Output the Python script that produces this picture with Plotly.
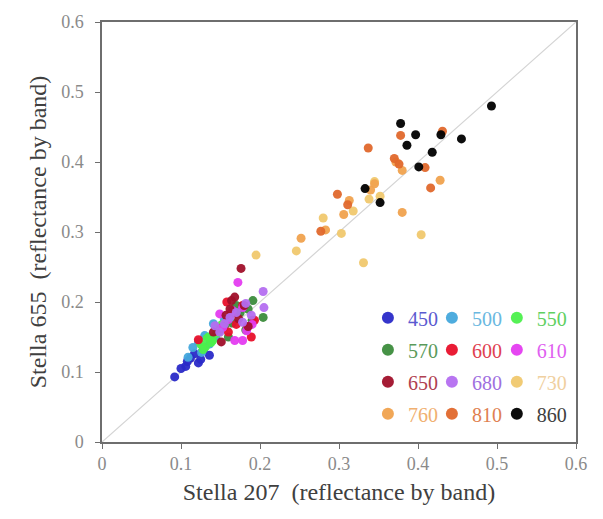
import plotly.graph_objects as go

bands = ["450", "500", "550", "570", "600", "610", "650", "680", "730", "760", "810", "860"]
colors = ["#2a2ac8", "#45a8dc", "#4cf04c", "#3c8c3c", "#e8102a", "#e43cf0",
          "#a0102a", "#b46ef0", "#f0c86e", "#f0a24e", "#e0682c", "#000000"]
text_colors = ["#5a5ad0", "#6ab8e0", "#60d060", "#5a9a5a", "#e04050", "#e060f0",
               "#b04050", "#a070e0", "#f0d0a0", "#f0b070", "#e08050", "#404040"]

x450 = [0.092, 0.106, 0.122, 0.117, 0.136, 0.112, 0.128, 0.108, 0.125, 0.100]
y450 = [0.093, 0.108, 0.113, 0.126, 0.124, 0.120, 0.131, 0.115, 0.118, 0.105]
x500 = [0.141, 0.130, 0.115, 0.136, 0.109, 0.148, 0.122, 0.155, 0.126, 0.144]
y500 = [0.169, 0.152, 0.135, 0.140, 0.121, 0.158, 0.143, 0.175, 0.128, 0.150]
x550 = [0.131, 0.140, 0.125, 0.148, 0.135, 0.152, 0.138, 0.128, 0.145, 0.133]
y550 = [0.136, 0.145, 0.140, 0.160, 0.150, 0.168, 0.142, 0.132, 0.155, 0.148]
x570 = [0.191, 0.204, 0.190, 0.175, 0.165, 0.182, 0.170, 0.155, 0.185, 0.160]
y570 = [0.202, 0.178, 0.174, 0.185, 0.170, 0.160, 0.195, 0.165, 0.190, 0.150]
x600 = [0.122, 0.164, 0.189, 0.160, 0.193, 0.170, 0.150, 0.178, 0.158, 0.184]
y600 = [0.146, 0.183, 0.150, 0.157, 0.174, 0.168, 0.162, 0.195, 0.200, 0.165]
x610 = [0.172, 0.149, 0.168, 0.178, 0.183, 0.153, 0.178, 0.160, 0.165, 0.190]
y610 = [0.228, 0.183, 0.145, 0.145, 0.159, 0.164, 0.192, 0.175, 0.188, 0.168]
x650 = [0.176, 0.164, 0.168, 0.151, 0.141, 0.157, 0.173, 0.185, 0.162, 0.180]
y650 = [0.248, 0.202, 0.207, 0.143, 0.157, 0.181, 0.176, 0.165, 0.190, 0.195]
x680 = [0.204, 0.205, 0.178, 0.155, 0.189, 0.149, 0.143, 0.170, 0.182, 0.162]
y680 = [0.215, 0.192, 0.171, 0.169, 0.181, 0.157, 0.166, 0.185, 0.198, 0.178]
x730 = [0.195, 0.246, 0.280, 0.303, 0.331, 0.404, 0.338, 0.345, 0.318, 0.352]
y730 = [0.267, 0.273, 0.320, 0.298, 0.256, 0.296, 0.347, 0.372, 0.330, 0.351]
x760 = [0.380, 0.428, 0.380, 0.252, 0.345, 0.306, 0.372, 0.313, 0.283, 0.340]
y760 = [0.388, 0.374, 0.328, 0.291, 0.369, 0.325, 0.400, 0.345, 0.303, 0.360]
x810 = [0.378, 0.337, 0.431, 0.370, 0.409, 0.416, 0.298, 0.311, 0.277, 0.376]
y810 = [0.438, 0.420, 0.444, 0.405, 0.392, 0.363, 0.354, 0.339, 0.301, 0.397]
x860 = [0.493, 0.378, 0.397, 0.386, 0.429, 0.455, 0.418, 0.401, 0.333, 0.352]
y860 = [0.480, 0.455, 0.439, 0.424, 0.439, 0.433, 0.414, 0.393, 0.362, 0.342]

xs = [x450, x500, x550, x570, x600, x610, x650, x680, x730, x760, x810, x860]
ys = [y450, y500, y550, y570, y600, y610, y650, y680, y730, y760, y810, y860]

axis_ticks = [0, 0.1, 0.2, 0.3, 0.4, 0.5, 0.6]
tick_text = ["0", "0.1", "0.2", "0.3", "0.4", "0.5", "0.6"]

fig = go.Figure()
fig.add_trace(go.Scatter(x=[0, 0.6], y=[0, 0.6], mode="lines",
                         line=dict(color="#d4d4d4", width=1.2),
                         showlegend=False, hoverinfo="skip"))

legend_ids = ["legend", "legend2", "legend3"]
for i, b in enumerate(bands):
    fig.add_trace(go.Scatter(
        x=xs[i], y=ys[i], mode="markers",
        name=f"<span style='color:{text_colors[i]}'>{b}</span>",
        marker=dict(color=colors[i], size=9, opacity=0.95),
        legend=legend_ids[i % 3], legendgroup=b,
    ))

font_family = "'Liberation Serif', 'Times New Roman', 'DejaVu Serif', serif"
leg_common = dict(bgcolor="rgba(0,0,0,0)", font=dict(family=font_family, size=20),
                  itemsizing="constant", tracegroupgap=3, yanchor="top",
                  xanchor="left", itemwidth=30)
fig.update_layout(
    width=603, height=519,
    margin=dict(l=102, r=27, t=19, b=77),
    plot_bgcolor="white", paper_bgcolor="white",
    font=dict(family=font_family, color="#404040"),
    xaxis=dict(range=[0, 0.6], tickvals=axis_ticks, ticktext=tick_text,
               showgrid=False, zeroline=False, showline=True, mirror=True,
               linecolor="#6e6e6e", linewidth=1.5, ticks="outside", ticklen=5,
               tickcolor="#6e6e6e", tickfont=dict(family=font_family, size=18, color="#8a8a8a"),
               title=dict(text="Stella 207  (reflectance by band)",
                          font=dict(family=font_family, size=24, color="#404040"), standoff=10)),
    yaxis=dict(range=[0, 0.6], tickvals=axis_ticks, ticktext=tick_text,
               showgrid=False, zeroline=False, showline=True, mirror=True,
               linecolor="#6e6e6e", linewidth=1.5, ticks="outside", ticklen=5,
               tickcolor="#6e6e6e", tickfont=dict(family=font_family, size=18, color="#8a8a8a"),
               ticklabelstandoff=8,
               title=dict(text="Stella 655  (reflectance by band)",
                          font=dict(family=font_family, size=24, color="#404040"), standoff=8)),
    legend=dict(x=0.561, y=0.342, **leg_common),
    legend2=dict(x=0.696, y=0.342, **leg_common),
    legend3=dict(x=0.833, y=0.342, **leg_common),
)

fig.write_html("out.html")
